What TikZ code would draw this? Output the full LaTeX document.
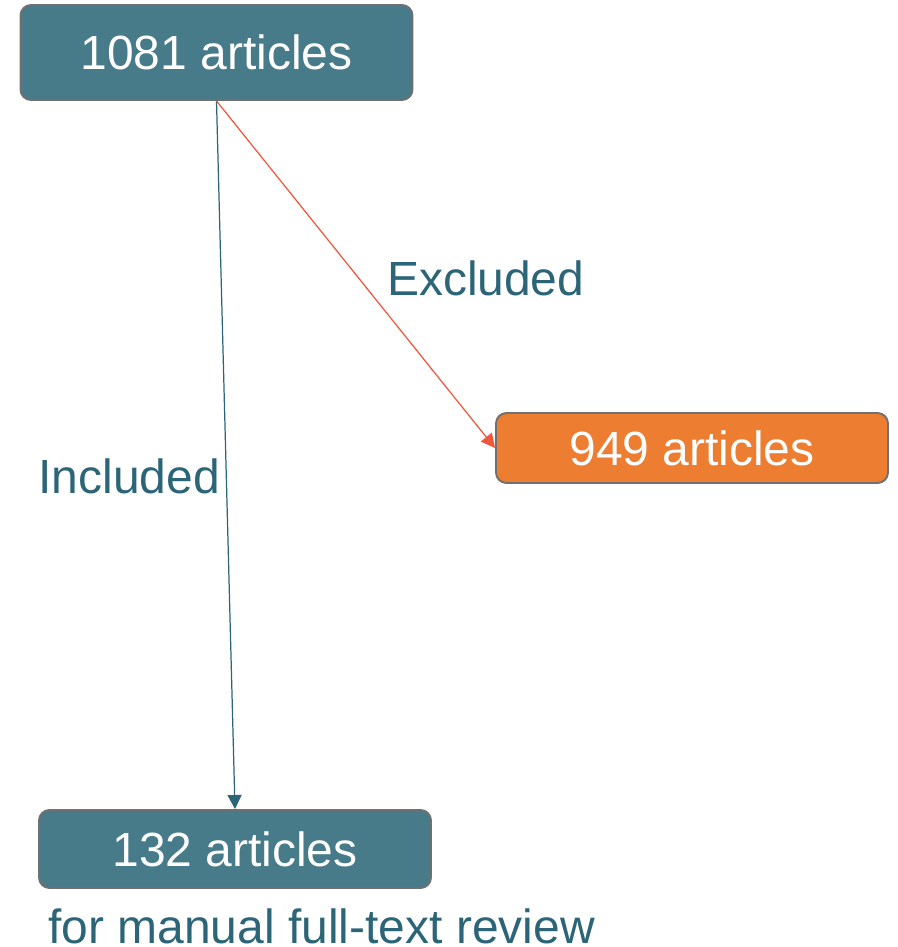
\documentclass[tikz,border=0pt]{standalone}
\usepackage{fontspec}
\setmainfont{Liberation Sans}
\usetikzlibrary{arrows.meta,positioning}
\definecolor{tealbox}{HTML}{477B8A}
\definecolor{orangebox}{HTML}{ED7D31}
\definecolor{boxline}{HTML}{707070}
\definecolor{tealtext}{HTML}{2B6577}
\definecolor{redline}{HTML}{F0563A}
\tikzset{
    countbox/.style={
        draw=boxline,
        line width=1.1pt,
        rounded corners=6pt,
        align=center,
        minimum width=78.4mm,
        text=white,
        font=\fontsize{27.3}{32}\selectfont
    },
    lbl/.style={
        text=tealtext,
        font=\fontsize{27.3}{32}\selectfont
    },
    inarrow/.style={
        -{Triangle[length=2.8mm,width=2.8mm]},
        draw=tealtext,
        line width=0.7pt
    },
    exarrow/.style={
        -{Triangle[length=2.8mm,width=2.8mm]},
        draw=redline,
        line width=0.7pt
    }
}
\begin{document}
\begin{tikzpicture}

\useasboundingbox (0,0) rectangle (17.94,-18.94);

\node[countbox, fill=tealbox, minimum height=19mm] (total) at (4.33,-1.05) {1081 articles};
\node[countbox, fill=orangebox, minimum height=14mm] (excl) at (13.84,-8.96) {949 articles};
\node[countbox, fill=tealbox, minimum height=15.6mm] (incl) at (4.70,-16.98) {132 articles};
\node[lbl, anchor=base west, inner sep=0pt, text depth=0pt] (note) at (0.96,-18.86) {for manual full-text review};

\draw[inarrow] (total.south) -- node[lbl, pos=0.53, left=0mm] {Included} (incl.north);
\draw[exarrow] (total.south) -- node[lbl, pos=0.51, right=4.4mm] {Excluded} (excl.west);

\end{tikzpicture}
\end{document}
